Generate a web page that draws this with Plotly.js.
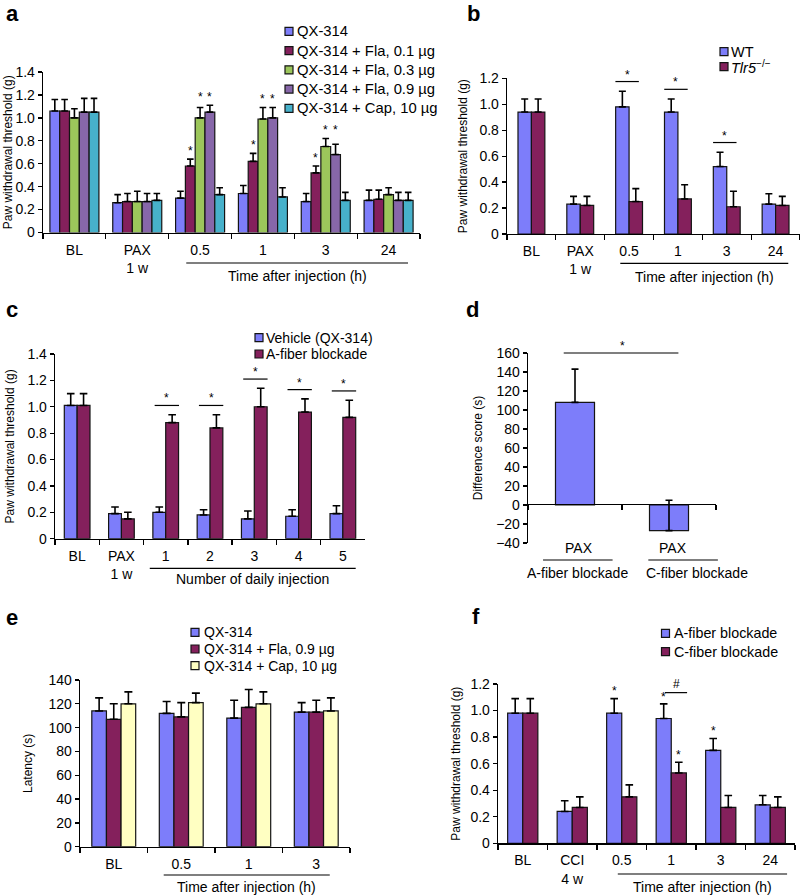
<!DOCTYPE html>
<html><head><meta charset="utf-8">
<script src="https://cdn.plot.ly/plotly-3.0.1.min.js"></script>
<style>html,body{margin:0;padding:0;background:#fff}#chart{width:800px;height:896px}</style>
</head><body><div id="chart"></div>
<script>
// ---------------- DATA ----------------
// Panel a
const aCats = ['BL','PAX<br>1 w','0.5','1','3','24'];
const aNames = ['QX-314','QX-314 + Fla, 0.1 µg','QX-314 + Fla, 0.3 µg','QX-314 + Fla, 0.9 µg','QX-314 + Cap, 10 µg'];
const aQX       = [1.06,0.26,0.30,0.34,0.27,0.28];
const aQXErr    = [0.10,0.07,0.06,0.07,0.07,0.09];
const aFla01    = [1.06,0.27,0.58,0.62,0.52,0.29];
const aFla01Err = [0.10,0.07,0.06,0.07,0.06,0.08];
const aFla03    = [1.00,0.27,1.00,0.99,0.75,0.33];
const aFla03Err = [0.08,0.09,0.09,0.10,0.07,0.06];
const aFla09    = [1.05,0.27,1.05,1.00,0.68,0.28];
const aFla09Err = [0.12,0.07,0.06,0.09,0.09,0.07];
const aCap      = [1.05,0.28,0.33,0.31,0.28,0.28];
const aCapErr   = [0.12,0.06,0.06,0.08,0.07,0.07];
const aStars    = [[2,[1]],[2,[2,3]],[3,[1]],[3,[2,3]],[4,[1]],[4,[2,3]]];

// Panel b
const bCats = ['BL','PAX<br>1 w','0.5','1','3','24'];
const bNames = ['WT','<i>Tlr5</i><sup>−/−</sup>'];
const bWT      = [0.94,0.23,0.98,0.94,0.52,0.23];
const bWTErr   = [0.10,0.06,0.12,0.10,0.11,0.08];
const bTlr5    = [0.94,0.22,0.25,0.27,0.21,0.22];
const bTlr5Err = [0.10,0.07,0.10,0.11,0.12,0.07];
const bSig     = [2,3,4];

// Panel c
const cCats = ['BL','PAX<br>1 w','1','2','3','4','5'];
const cNames = ['Vehicle (QX-314)','A-fiber blockade'];
const cVeh     = [1.01,0.19,0.20,0.18,0.15,0.17,0.19];
const cVehErr  = [0.09,0.05,0.04,0.04,0.06,0.05,0.06];
const cAfib    = [1.01,0.15,0.88,0.84,1.00,0.96,0.92];
const cAfibErr = [0.09,0.05,0.06,0.10,0.14,0.10,0.13];
const cSig     = [2,3,4,5,6];

// Panel d
const dCats = ['A-fiber blockade','C-fiber blockade'];
const dScore    = [108,-27];
const dScoreErr = [35,32];

// Panel e
const eCats = ['BL','0.5','1','3'];
const eNames = ['QX-314','QX-314 + Fla, 0.9 µg','QX-314 + Cap, 10 µg'];
const eQX     = [114,112,108,113];
const eQXErr  = [11,10,15,8];
const eFla    = [107,109,117,113];
const eFlaErr = [13,12,15,10];
const eCap    = [120,121,120,114];
const eCapErr = [10,8,10,11];

// Panel f
const fCats = ['BL','CCI<br>4 w','0.5','1','3','24'];
const fNames = ['A-fiber blockade','C-fiber blockade'];
const fA     = [0.98,0.24,0.98,0.94,0.70,0.29];
const fAErr  = [0.11,0.08,0.11,0.11,0.09,0.07];
const fC     = [0.98,0.27,0.35,0.53,0.27,0.27];
const fCErr  = [0.11,0.08,0.09,0.08,0.09,0.08];
const fStars = [[2,[0]],[3,[0]],[3,[1]],[4,[0]]];
const fHash  = 3;

// Tick labels
const thrTicks = [0,0.2,0.4,0.6,0.8,1.0,1.2,1.4];
const thrTickText = ['0','0.2','0.4','0.6','0.8','1.0','1.2','1.4'];
const dTicks = [-40,-20,0,20,40,60,80,100,120,140,160];
const dTickText = ['−40','−20','0','20','40','60','80','100','120','140','160'];
const eTicks = [0,20,40,60,80,100,120,140];

// ---------------- STYLE / LAYOUT ----------------
const W=800,H=896;
const X = px => px/W;
const Y = py => 1 - py/H;
const FONT='"Liberation Sans", Arial, Helvetica, sans-serif';
const BLACK='#000';
const EDGE='#141414';
const C = {blue:'#7D7DFA', maroon:'#84205C', green:'#9CC65B', purple:'#8767A9', cyan:'#47B1CB', yellow:'#FFFFC2'};

const traces=[], annotations=[], shapes=[];
const layout = {width:W,height:H,margin:{l:0,r:0,t:0,b:0},paper_bgcolor:'#fff',plot_bgcolor:'rgba(0,0,0,0)',
  font:{family:FONT,size:14,color:BLACK},showlegend:false,annotations,shapes,hovermode:false};

function panel(id, n, xpx, ypx, r, gap){ return {id, n, x:[X(xpx[0]),X(xpx[1])], y:[Y(ypx[0]),Y(ypx[1])], r, gap}; }
const PA = panel('',  6, [43,420],  [232.5,72],  [0,1.4], 0.22);
const PB = panel('2', 6, [507,800], [234,78.3],  [0,1.2], 0.45);
const PC = panel('3', 7, [55,365],  [538.7,354], [0,1.4], 0.42);
const PD = panel('4', 2, [528,716], [543,353],   [-40,160], 0.585);
const PE = panel('5', 4, [80,350],  [846.7,680], [0,140], 0.35);
const PF = panel('6', 6, [498,795], [843.3,684], [0,1.2], 0.39);

const xdom = p => 'x'+p.id+' domain';
const ydom = p => 'y'+p.id+' domain';
const xf = (p,c) => (c+0.5)/p.n;
const yf = (p,v) => (v-p.r[0])/(p.r[1]-p.r[0]);
const barW = (p,k) => (1-p.gap)/k;
const barC = (p,k,i) => -(1-p.gap)/2 + (i+0.5)*barW(p,k);

function addBars(p, cats, vals, errs, names, colors, capW){
  const k = vals.length, w = barW(p,k);
  vals.forEach((v,i)=>{
    traces.push({type:'bar', x:cats, y:v, name:names?names[i]:'bar', xaxis:'x'+p.id, yaxis:'y'+p.id,
      width:w, offset:-(1-p.gap)/2+i*w,
      marker:{color:colors[i], line:{color:EDGE,width:1.2}},
      error_y:{type:'data',symmetric:false,array:errs[i],arrayminus:v.map(()=>0),color:BLACK,thickness:1.6,width:capW},
      showlegend:false, hoverinfo:'skip'});
  });
}

function axes(p, cats, ytv, ytt, ytitle, standoff, opt={}){
  const ax = {domain:p.x, anchor: opt.xfree ? 'free' : 'y'+p.id, type:'category', range:[-0.5,p.n-0.5],
    showline:true, linecolor:BLACK, linewidth:1.3, ticks:'outside', tickson:'boundaries', ticklen:5, tickwidth:1.3,
    tickcolor:BLACK, showgrid:false, zeroline:false, showticklabels: !opt.hideX,
    tickfont:{family:FONT,size:14,color:BLACK}, ticklabelstandoff:4, fixedrange:true,
    categoryorder:'array', categoryarray:cats};
  if (opt.xfree) ax.position = opt.xpos;
  layout['xaxis'+p.id] = ax;
  layout['yaxis'+p.id] = {domain:p.y, anchor:'x'+p.id, range:p.r, tickmode:'array', tickvals:ytv, ticktext:ytt,
    showline:true, linecolor:BLACK, linewidth:1.3, ticks:'outside', ticklen:4, tickwidth:1.3, tickcolor:BLACK,
    showgrid:false, zeroline:false, tickfont:{family:FONT,size:14,color:BLACK}, fixedrange:true,
    title:{text:ytitle, font:{family:FONT,size:12,color:BLACK}, standoff:standoff}};
}

function txt(xref,yref,x,y,text,size,extra){ annotations.push(Object.assign({xref,yref,x,y,text,showarrow:false,
  font:{family:FONT,size,color:BLACK},xanchor:'center',yanchor:'middle'},extra||{})); }
function line(xref,yref,x0,x1,y0,y1,w){ shapes.push({type:'line',xref,yref,x0,x1,y0,y1,line:{color:BLACK,width:w||1.2}}); }

function groupLabel(p, c0, c1, linePy, textPy, text){
  line(xdom(p),'paper',xf(p,c0),xf(p,c1),Y(linePy),Y(linePy),1.2);
  txt(xdom(p),'paper',xf(p,(c0+c1)/2),Y(textPy),text,14);
}
function stars(p, k, vals, errs, list, pad, size){
  list.forEach(([c,ser])=>{
    const top = Math.max(...ser.map(i=>vals[i][c]+errs[i][c]));
    ser.forEach(i=> txt(xdom(p),ydom(p),xf(p,c+barC(p,k,i)),yf(p,top+pad),'*',size||12,{yshift:-2}));
  });
}
function brackets(p, vals, errs, cats, dx0, dx1, pad, sym){
  cats.forEach(c=>{
    const top = Math.max(...vals.map((v,i)=>v[c]+errs[i][c]));
    line(xdom(p),ydom(p),xf(p,c+dx0),xf(p,c+dx1),yf(p,top+pad),yf(p,top+pad),1.2);
    txt(xdom(p),ydom(p),xf(p,c+(dx0+dx1)/2),yf(p,top+pad),sym||'*',12,{yshift:7});
  });
}
function letter(px,py,t,anchor){ txt('paper','paper',X(px),Y(py),'<b>'+t+'</b>',22,{yanchor:anchor||'middle',borderpad:0}); }
// legend drawn as small framed squares + text rows
function legendBox(names, colors, sqCx, textX, row0, rowStep, size){
  names.forEach((nm,i)=>{
    const cy = row0 + i*rowStep, h = 4;
    shapes.push({type:'rect',xref:'paper',yref:'paper',x0:X(sqCx-h),x1:X(sqCx+h),y0:Y(cy+h),y1:Y(cy-h),
      fillcolor:colors[i],line:{color:EDGE,width:1.2}});
    txt('paper','paper',X(textX),Y(cy),nm,size,{xanchor:'left'});
  });
}

// ---- Panel a ----
const aVals=[aQX,aFla01,aFla03,aFla09,aCap], aErrs=[aQXErr,aFla01Err,aFla03Err,aFla09Err,aCapErr];
const aCols=[C.blue,C.maroon,C.green,C.purple,C.cyan];
addBars(PA, aCats, aVals, aErrs, aNames, aCols, 3.3);
axes(PA, aCats, thrTicks, thrTickText, 'Paw withdrawal threshold (g)', 0);
stars(PA, 5, aVals, aErrs, aStars, 0.09);
groupLabel(PA, 2-0.22, 5+0.31, 263, 276, 'Time after injection (h)');
legendBox(aNames, aCols, 289, 295, 31.3, 19.25, 14.8);
letter(12,0.5,'a','top');

// ---- Panel b ----
const bVals=[bWT,bTlr5], bErrs=[bWTErr,bTlr5Err];
addBars(PB, bCats, bVals, bErrs, bNames, [C.blue,C.maroon], 3.5);
axes(PB, bCats, thrTicks.slice(0,7), thrTickText.slice(0,7), 'Paw withdrawal threshold (g)', 9);
brackets(PB, bVals, bErrs, bSig, -0.28, 0.2, 0.075);
groupLabel(PB, 2-0.18, 5+0.26, 263.3, 276.7, 'Time after injection (h)');
legendBox(bNames, [C.blue,C.maroon], 724, 729, 51.7, 15, 14.5);
letter(473,0.5,'b','top');

// ---- Panel c ----
const cVals=[cVeh,cAfib], cErrs=[cVehErr,cAfibErr];
addBars(PC, cCats, cVals, cErrs, cNames, [C.blue,C.maroon], 3.8);
axes(PC, cCats, thrTicks, thrTickText, 'Paw withdrawal threshold (g)', 10);
brackets(PC, cVals, cErrs, cSig, -0.25, 0.3, 0.07);
groupLabel(PC, 2-0.36, 6+0.29, 568.3, 579.3, 'Number of daily injection');
legendBox(cNames, [C.blue,C.maroon], 259, 264, 337.7, 16.3, 14);
letter(12,309,'c');

// ---- Panel d ----
addBars(PD, dCats, [dScore], [dScoreErr], null, [C.blue], 3.5);
axes(PD, dCats, dTicks, dTickText, 'Difference score (s)', 11, {xfree:true, xpos:Y(504), hideX:true});
const dTop = Math.max(...dScore.map((v,i)=>v+dScoreErr[i]));
line(xdom(PD),ydom(PD),xf(PD,-0.12),xf(PD,1.1),yf(PD,dTop+17),yf(PD,dTop+17),1.2);
txt(xdom(PD),ydom(PD),xf(PD,0.5),yf(PD,dTop+17),'*',12,{yshift:7});
dCats.forEach((c,i)=>{
  txt(xdom(PD),'paper',xf(PD,i+0.04),Y(548),'PAX',14);
  line(xdom(PD),'paper',xf(PD,i+(i?-0.22:-0.34)),xf(PD,i+(i?0.52:0.40)),Y(560),Y(560),1.2);
  txt(xdom(PD),'paper',xf(PD,i+(i?0.3:0.03)),Y(573),c,14);
});
letter(472,310,'d');

// ---- Panel e ----
const eVals=[eQX,eFla,eCap], eErrs=[eQXErr,eFlaErr,eCapErr];
const eCols=[C.blue,C.maroon,C.yellow];
addBars(PE, eCats, eVals, eErrs, eNames, eCols, 4);
axes(PE, eCats, eTicks, eTicks.map(String), 'Latency (s)', 13);
groupLabel(PE, 1-0.26, 3+0.2, 875, 887, 'Time after injection (h)');
legendBox(eNames, eCols, 195, 202, 632.3, 16.7, 14);
letter(12,617,'e');

// ---- Panel f ----
const fVals=[fA,fC], fErrs=[fAErr,fCErr];
addBars(PF, fCats, fVals, fErrs, fNames, [C.blue,C.maroon], 3.8);
axes(PF, fCats, thrTicks.slice(0,7), thrTickText.slice(0,7), 'Paw withdrawal threshold (g)', 7);
stars(PF, 2, fVals, fErrs, fStars, 0.07);
{
  const top = Math.max(fA[fHash]+fAErr[fHash], fC[fHash]+fCErr[fHash]) + 0.085;
  line(xdom(PF),ydom(PF),xf(PF,fHash-0.13),xf(PF,fHash+0.32),yf(PF,top),yf(PF,top),1.2);
  txt(xdom(PF),ydom(PF),xf(PF,fHash+0.1),yf(PF,top),'#',12,{yshift:9});
}
groupLabel(PF, 2-0.08, 5+0.34, 874, 886.7, 'Time after injection (h)');
legendBox(fNames, [C.blue,C.maroon], 665.5, 672, 633.3, 18.4, 14.3);
letter(476,616,'f');

Plotly.newPlot('chart', traces, layout, {displayModeBar:false, staticPlot:true});
</script></body></html>
